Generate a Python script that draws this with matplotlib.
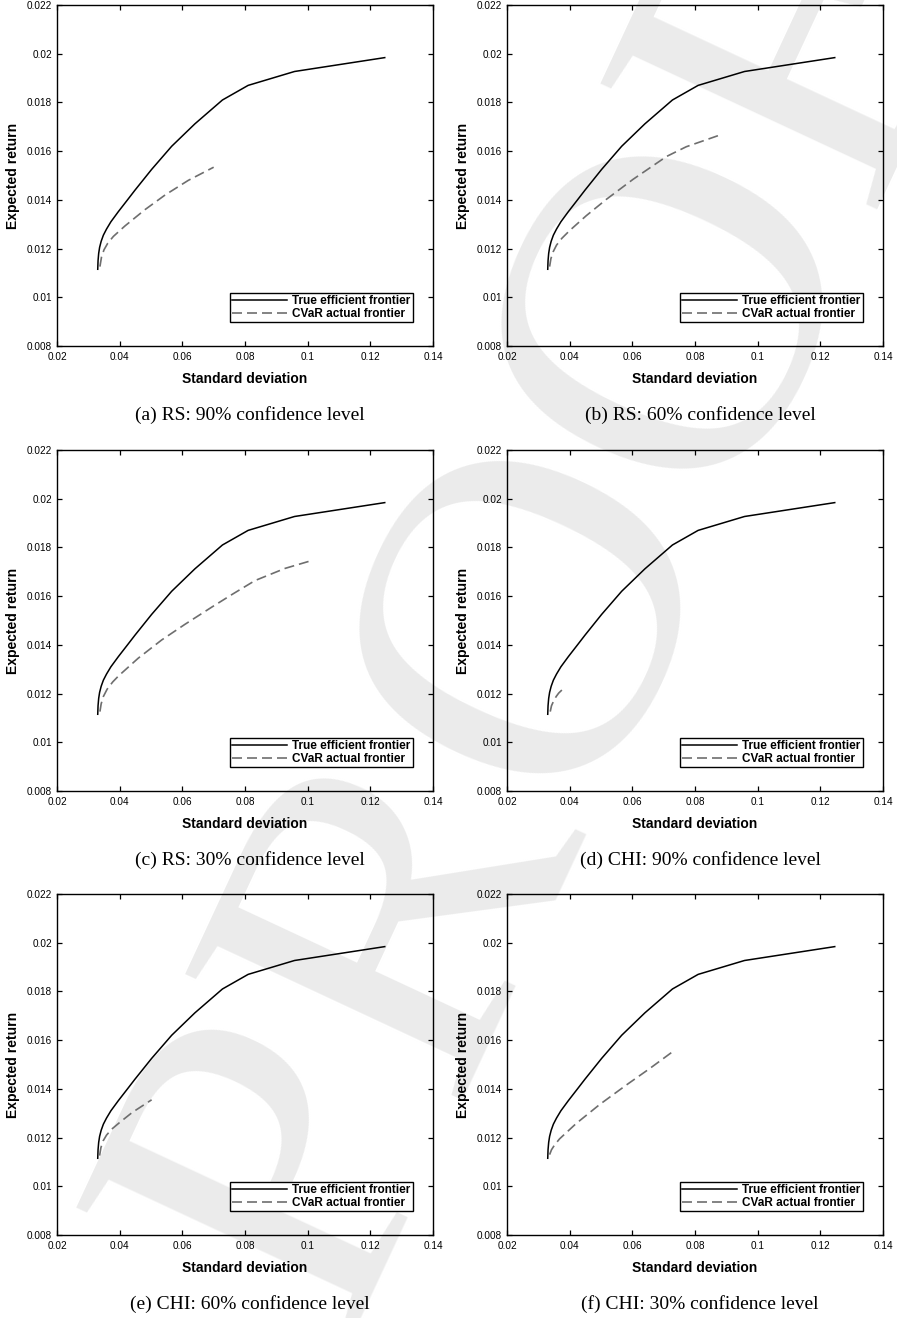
import matplotlib
matplotlib.use("Agg")
import matplotlib.pyplot as plt
from matplotlib.ticker import FixedLocator, FixedFormatter

# true efficient frontier (same in every panel)
true_sd = [0.0330, 0.0331, 0.0333, 0.0336, 0.0341, 0.0348, 0.0358, 0.0372, 0.0396, 0.0425,
           0.0449, 0.0502, 0.0566, 0.0640, 0.0728, 0.0810, 0.0958, 0.1246]
true_ret = [0.01115, 0.01150, 0.01180, 0.01205, 0.01230, 0.01255, 0.01280, 0.01310, 0.01352,
            0.01400, 0.01440, 0.01525, 0.01620, 0.01712, 0.01810, 0.01870, 0.01927, 0.01984]

# CVaR actual frontiers, one per panel
cvar_sd_a = [0.0337, 0.0342, 0.0350, 0.0362, 0.0380, 0.0417, 0.0481, 0.0545, 0.0619, 0.0700]
cvar_ret_a = [0.01126, 0.01165, 0.01195, 0.01222, 0.01250, 0.01293, 0.01360, 0.01420, 0.01480, 0.01534]
cvar_sd_b = [0.0336, 0.0340, 0.0347, 0.0358, 0.0375, 0.0400, 0.0453, 0.0517, 0.0602, 0.0709,
             0.0772, 0.0879]
cvar_ret_b = [0.01126, 0.01158, 0.01186, 0.01214, 0.01242, 0.01274, 0.01335, 0.01402, 0.01484,
              0.01578, 0.01618, 0.01666]
cvar_sd_c = [0.0337, 0.0341, 0.0348, 0.0360, 0.0378, 0.0396, 0.0459, 0.0534, 0.0608, 0.0694,
             0.0760, 0.0832, 0.0928, 0.1007]
cvar_ret_c = [0.01126, 0.01158, 0.01188, 0.01218, 0.01248, 0.01272, 0.01345, 0.01420, 0.01484,
              0.01555, 0.01608, 0.01664, 0.01714, 0.01744]
cvar_sd_d = [0.0338, 0.0342, 0.0349, 0.0357, 0.0365, 0.0386]
cvar_ret_d = [0.01126, 0.01150, 0.01170, 0.01188, 0.01202, 0.01228]
cvar_sd_e = [0.0336, 0.0340, 0.0347, 0.0358, 0.0375, 0.0400, 0.0440, 0.0502]
cvar_ret_e = [0.01126, 0.01158, 0.01186, 0.01210, 0.01235, 0.01262, 0.01303, 0.01355]
cvar_sd_f = [0.0336, 0.0342, 0.0352, 0.0368, 0.0421, 0.0496, 0.0580, 0.0655, 0.0728]
cvar_ret_f = [0.01130, 0.01150, 0.01170, 0.01195, 0.01258, 0.01336, 0.01415, 0.01483, 0.01552]

captions = ["(a) RS: 90% confidence level", "(b) RS: 60% confidence level",
            "(c) RS: 30% confidence level", "(d) CHI: 90% confidence level",
            "(e) CHI: 60% confidence level", "(f) CHI: 30% confidence level"]
cvar_sd = [cvar_sd_a, cvar_sd_b, cvar_sd_c, cvar_sd_d, cvar_sd_e, cvar_sd_f]
cvar_ret = [cvar_ret_a, cvar_ret_b, cvar_ret_c, cvar_ret_d, cvar_ret_e, cvar_ret_f]

xticks = [0.02, 0.04, 0.06, 0.08, 0.1, 0.12, 0.14]
xtick_labels = ["0.02", "0.04", "0.06", "0.08", "0.1", "0.12", "0.14"]
yticks = [0.008, 0.01, 0.012, 0.014, 0.016, 0.018, 0.02, 0.022]
ytick_labels = ["0.008", "0.01", "0.012", "0.014", "0.016", "0.018", "0.02", "0.022"]

plt.rcParams["font.family"] = ["Liberation Sans", "DejaVu Sans"]

W, H = 897, 1318
fig = plt.figure(figsize=(W / 100, H / 100), dpi=100)

# light "PROOF" watermark behind everything
fig.text(0.619, 0.538, "PROOF", rotation=65, fontsize=335, family="Liberation Serif",
         color="#ebebeb", ha="center", va="center", zorder=-5)

lefts = [57, 507]
tops = [5, 450, 894]
aw, ah = 376, 341

for i in range(6):
    r, c = divmod(i, 2)
    x0, y0 = lefts[c], tops[r]
    ax = fig.add_axes([x0 / W, 1 - (y0 + ah) / H, aw / W, ah / H])
    ax.set_facecolor("none")
    ax.plot(true_sd, true_ret, color="black", lw=1.1, label="True efficient frontier")
    ax.plot(cvar_sd[i], cvar_ret[i], color="#6e6e6e", lw=1.2, dashes=(6, 3),
            label="CVaR actual frontier")
    ax.set_xlim(0.02, 0.14)
    ax.set_ylim(0.008, 0.022)
    ax.xaxis.set_major_locator(FixedLocator(xticks))
    ax.xaxis.set_major_formatter(FixedFormatter(xtick_labels))
    ax.yaxis.set_major_locator(FixedLocator(yticks))
    ax.yaxis.set_major_formatter(FixedFormatter(ytick_labels))
    ax.tick_params(direction="in", top=True, right=True, length=3.5, width=0.9,
                   labelsize=7.2)
    ax.tick_params(axis="y", pad=3.5)
    ax.tick_params(axis="x", pad=4.5)
    for s in ax.spines.values():
        s.set_linewidth(1.0)
    ax.set_xlabel("Standard deviation", fontsize=10, fontweight="bold", va="center")
    ax.xaxis.set_label_coords(0.5, -33 / ah)
    ax.set_ylabel("Expected return", fontsize=10, fontweight="bold", va="center")
    ax.yaxis.set_label_coords(-44 / aw, 0.5)
    leg = ax.legend(loc="lower right", bbox_to_anchor=(0.947, 0.070), borderaxespad=0,
                    fancybox=False, framealpha=1, edgecolor="black",
                    prop={"weight": "bold", "size": 8.5}, handlelength=4.6,
                    handletextpad=0.5, labelspacing=0.05, borderpad=0.2)
    leg.get_frame().set_linewidth(1.0)
    fig.text((x0 + 193) / W, 1 - (y0 + 410) / H, captions[i], fontsize=14,
             family="Liberation Serif", ha="center", va="center")

fig.savefig("out.png", dpi=100)
